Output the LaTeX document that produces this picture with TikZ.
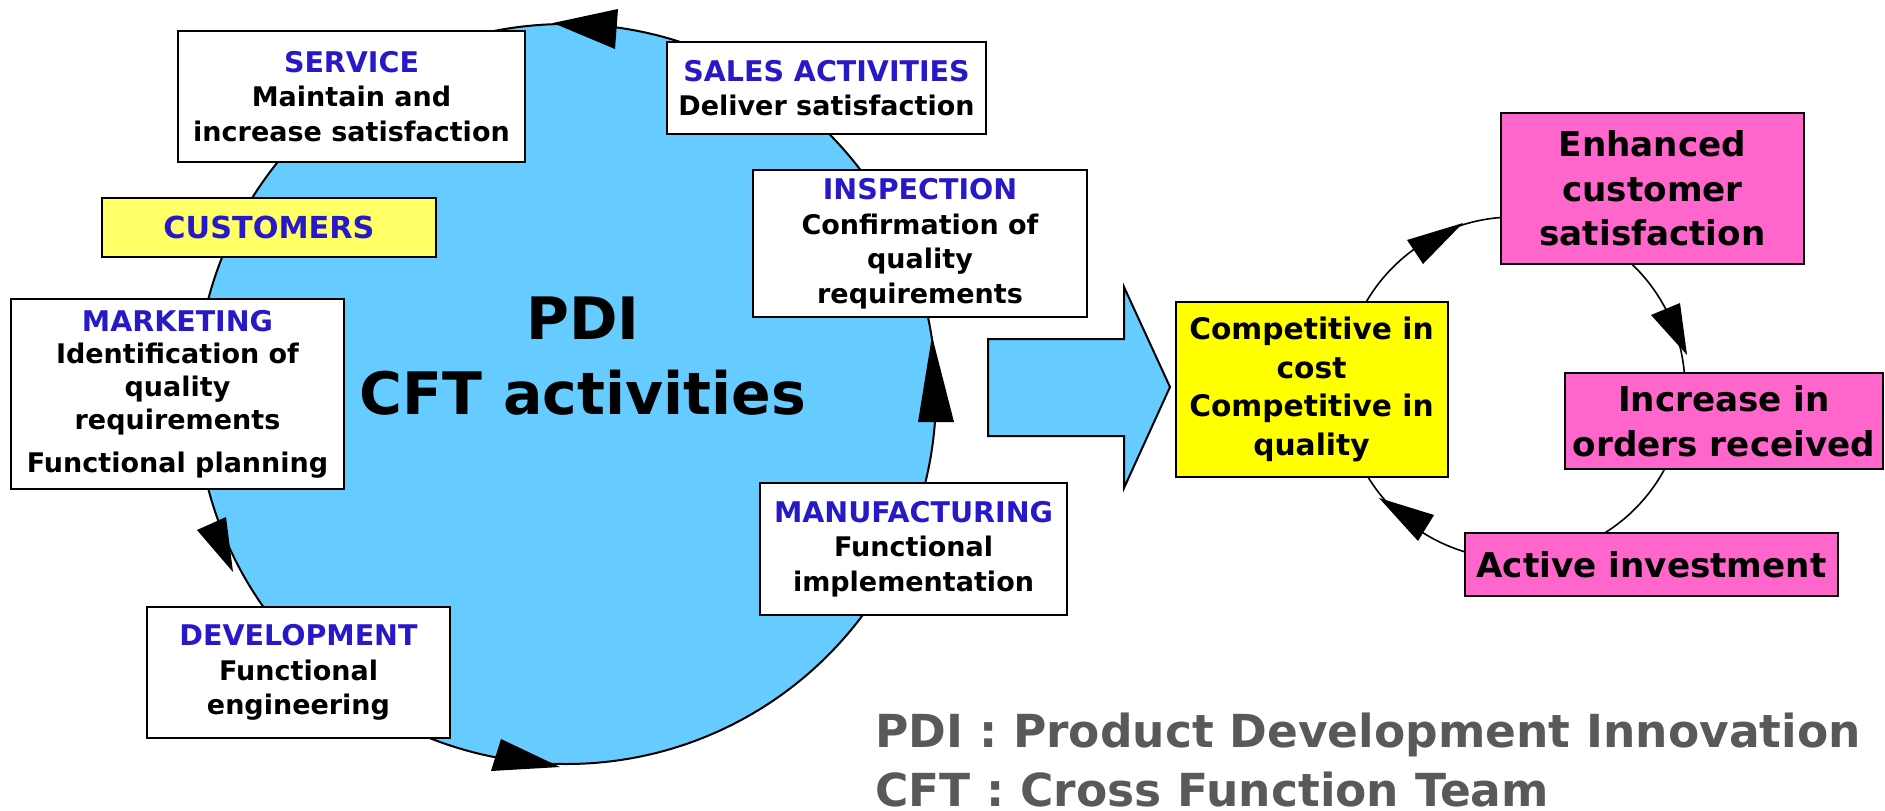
\documentclass[tikz,border=0pt]{standalone}
\usepackage{fontspec}
\setmainfont{DejaVu Sans}
\definecolor{cblue}{RGB}{102,204,255}
\definecolor{hblue}{RGB}{40,25,200}
\definecolor{pinkc}{RGB}{255,102,204}
\definecolor{yelc}{RGB}{255,255,0}
\definecolor{custy}{RGB}{255,255,102}
\definecolor{gtext}{RGB}{89,89,89}
\newcommand\boxhead[1]{{\color{hblue}\fontsize{28.5}{34.5}\selectfont #1}}
\tikzset{
  wbox/.style={draw=black, line width=2pt, fill=white, inner sep=0pt, align=center,
    font=\bfseries\fontsize{27}{34.5}\selectfont},
  pbox/.style={draw=black, line width=2pt, fill=pinkc, inner sep=0pt, align=center,
    font=\bfseries\fontsize{34.2}{44.5}\selectfont},
  tip/.style={fill=black, draw=none},
  ring/.style={draw=black, line width=2pt},
}
\begin{document}
\begin{tikzpicture}[x=1pt,y=-1pt]
\useasboundingbox (0,0) rectangle (1885,811);
% big PDI circle
\draw[ring, fill=cblue] (566,394) circle [radius=370pt];
\fill[tip] (553,23) -- (618,9) -- (615,49) -- cycle;
\fill[tip] (233,572) -- (197,530) -- (226,517) -- cycle;
\fill[tip] (560,767) -- (501,739) -- (491,771) -- cycle;
\fill[tip] (932,336) -- (918,422) -- (954,422) -- cycle;
% small loop circle
\draw[black, line width=1.6pt] (1514,388) circle [radius=171pt];
\fill[tip] (1463,223) -- (1407,240) -- (1423,264) -- cycle;
\fill[tip] (1687,355) -- (1651,315) -- (1680,303) -- cycle;
\fill[tip] (1379,498) -- (1434,515) -- (1418,541) -- cycle;
% central text
\node[align=center, font=\bfseries\fontsize{58.5}{75}\selectfont] (pdi) at (583,356) {PDI\\CFT activities};
% boxes round the circle
\node[wbox, minimum width=347pt, minimum height=131pt] (service) at (351.5,96.5)
  {\boxhead{SERVICE}\\Maintain and\\increase satisfaction};
\node[wbox, minimum width=319pt, minimum height=92pt] (sales) at (826.5,88)
  {\boxhead{SALES ACTIVITIES}\\Deliver satisfaction};
\node[wbox, fill=custy, minimum width=334pt, minimum height=59pt,
  font=\bfseries\fontsize{30.3}{36}\selectfont, text=hblue] (customers) at (269,227.5) {CUSTOMERS};
\node[wbox, minimum width=334pt, minimum height=147pt] (inspection) at (920,243.5)
  {\boxhead{INSPECTION}\\Confirmation of\\quality\\requirements};
\node[wbox, minimum width=333pt, minimum height=190pt, font=\bfseries\fontsize{27}{32.8}\selectfont] (marketing) at (177.5,394)
  {\boxhead{MARKETING}\\Identification of\\quality\\requirements\\[10pt]Functional planning};
\node[wbox, minimum width=307pt, minimum height=132pt] (manufacturing) at (913.5,549)
  {\boxhead{MANUFACTURING}\\Functional\\implementation};
\node[wbox, minimum width=303pt, minimum height=131pt] (development) at (298.5,672.5)
  {\boxhead{DEVELOPMENT}\\Functional\\engineering};
% big arrow
\draw[ring, fill=cblue] (988,339) -- (1124,339) -- (1124,287) -- (1170,387) -- (1124,488)
  -- (1124,436) -- (988,436) -- cycle;
% right loop boxes
\node[wbox, fill=yelc, minimum width=272pt, minimum height=175pt,
  font=\bfseries\fontsize{29.7}{38.5}\selectfont] (compet) at (1311.5,389.5)
  {Competitive in\\cost\\Competitive in\\quality};
\node[pbox, minimum width=303pt, minimum height=151pt] (enhanced) at (1652.5,188.5)
  {Enhanced\\customer\\satisfaction};
\node[pbox, minimum width=318pt, minimum height=96pt] (increase) at (1724,421)
  {Increase in\\orders received};
\node[pbox, minimum width=373pt, minimum height=63pt] (active) at (1651.5,564.5)
  {Active investment};
% legend
\node[anchor=west, align=left, text=gtext, inner sep=0pt,
  font=\bfseries\fontsize{45.5}{59}\selectfont] (legend) at (875,760.5)
  {PDI : Product Development Innovation\\CFT : Cross Function Team};
\end{tikzpicture}
\end{document}
